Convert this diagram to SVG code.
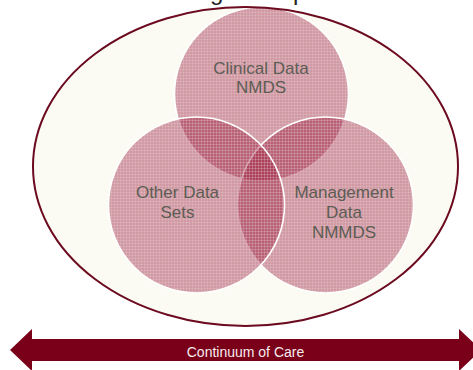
<svg xmlns="http://www.w3.org/2000/svg" width="473" height="370" viewBox="0 0 473 370">
  <defs>
    <!-- fine woven grid used as a surface finish on the sets -->
    <pattern id="grain" width="3" height="3" patternUnits="userSpaceOnUse">
      <rect x="0" y="0" width="3" height="1" fill="#ffffff" fill-opacity="0.14"/>
      <rect x="0" y="0" width="1" height="3" fill="#ffffff" fill-opacity="0.14"/>
    </pattern>
  </defs>
  <style>
    .title { font-family: "Liberation Sans", Arial, sans-serif; font-size: 24px; fill: #222; }
    .set { fill: #9a1838; fill-opacity: 0.43; stroke: #ffffff; stroke-width: 1.6; }
    .grain { fill: url(#grain); stroke: none; }
    .lbl { font-family: "Liberation Sans", Arial, sans-serif; font-size: 17px; fill: #5c5d54; text-anchor: middle; }
    .arrow-lbl { font-family: "Liberation Sans", Arial, sans-serif; font-size: 14px; fill: #f7ecee; text-anchor: middle; }
  </style>

  <!-- heading, mostly above the top edge -->
  <text class="title" x="210" y="0">g</text>
  <text class="title" x="293" y="0">p</text>

  <!-- enclosing scope -->
  <g id="scope">
    <ellipse cx="245.5" cy="166.5" rx="212.5" ry="159.5" fill="#fbfbf4"/>
  </g>

  <g id="clinical">
    <circle class="set" cx="261.5" cy="94" r="87" stroke="none"/>
    <circle class="grain" cx="261.5" cy="94" r="87"/>
  </g>
  <g id="management">
    <circle class="set" cx="325.5" cy="205" r="88"/>
    <circle class="grain" cx="325.5" cy="205" r="88"/>
  </g>
  <g id="other">
    <circle class="set" cx="196.5" cy="205" r="88"/>
    <circle class="grain" cx="196.5" cy="205" r="88"/>
  </g>

  <!-- outline of the scope, over the sets -->
  <ellipse cx="245.5" cy="166.5" rx="212.5" ry="159.5" fill="none" stroke="#6c0a1f" stroke-width="2"/>

  <g id="labels">
    <text class="lbl" x="261" y="74">Clinical Data</text>
    <text class="lbl" x="261" y="93">NMDS</text>
    <text class="lbl" x="177.5" y="198">Other Data</text>
    <text class="lbl" x="177.5" y="218">Sets</text>
    <text class="lbl" x="344" y="198">Management</text>
    <text class="lbl" x="344" y="218">Data</text>
    <text class="lbl" x="344" y="238">NMMDS</text>
  </g>

  <!-- double-headed band along the bottom -->
  <g id="continuum">
    <polygon points="10,350 32,329 32,339 459,339 459,329 481,350 459,371 459,361 32,361 32,371" fill="#7a0019"/>
    <text class="arrow-lbl" x="245.5" y="357">Continuum of Care</text>
  </g>
</svg>
